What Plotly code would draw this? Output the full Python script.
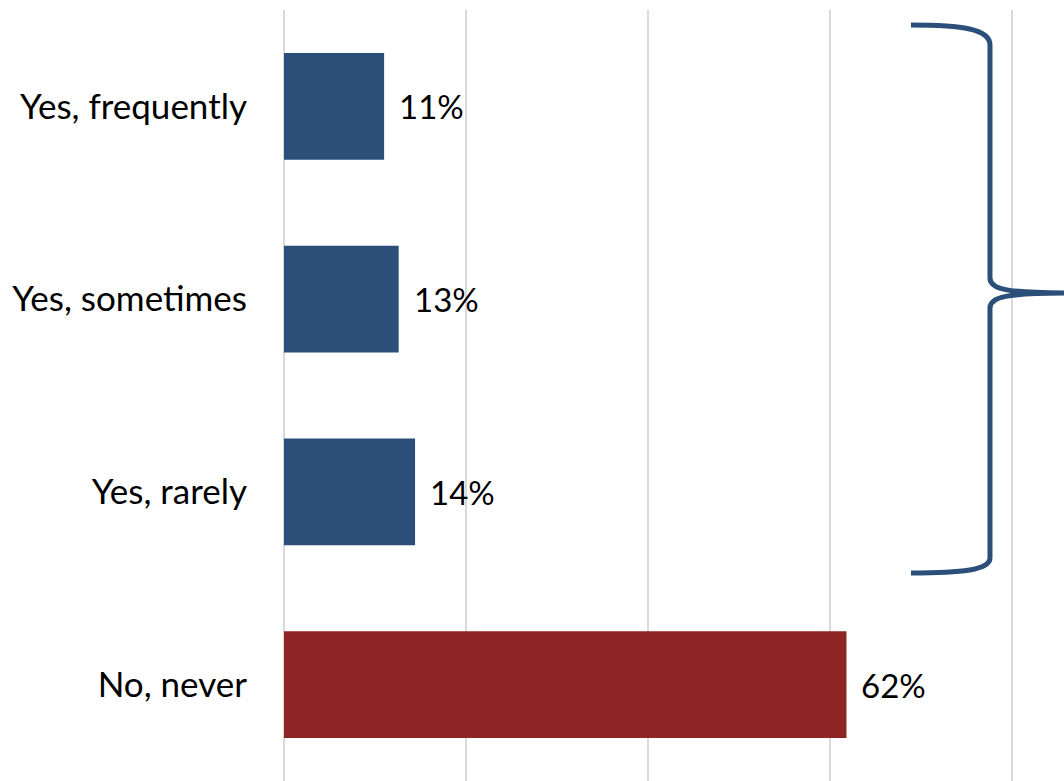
import plotly.graph_objects as go

categories = ["No, never", "Yes, rarely", "Yes, sometimes", "Yes, frequently"]
values = [61.8, 14.4, 12.6, 11.0]
labels = ["62%", "14%", "13%", "11%"]
colors = ["#8e2423", "#2b4f78", "#2b4f78", "#2b4f78"]

W, H = 1064, 781
L, R, T, B = 284, 0, 10, 0

fig = go.Figure()
fig.add_trace(go.Bar(
    x=values, y=list(range(len(categories))), orientation="h",
    marker=dict(color=colors, line=dict(width=0)),
    width=0.555, hoverinfo="skip", showlegend=False,
))

for i, (v, t) in enumerate(zip(values, labels)):
    fig.add_annotation(x=v, y=i, text=t, showarrow=False, xanchor="left",
                       xshift=13, font=dict(size=33, color="#000000", family="Lato"))

# curly brace (decorative) in paper coordinates
def px(x):
    return (x - L) / (W - L - R)

def py(y):
    return (H - B - y) / (H - T - B)

def pt(x, y):
    return f"{px(x):.4f},{py(y):.4f}"

path = (
    f"M {pt(911,25)} C {pt(962,25)} {pt(990,29)} {pt(990,45)} "
    f"L {pt(990,278)} C {pt(990,289)} {pt(1005,293)} {pt(1070,293)} "
    f"M {pt(1070,293)} C {pt(1005,293)} {pt(990,297)} {pt(990,308)} "
    f"L {pt(990,558)} C {pt(990,570)} {pt(962,573)} {pt(911,573)}"
)
fig.add_shape(type="path", path=path, xref="paper", yref="paper",
              line=dict(color="#2b4f78", width=5))

fig.update_layout(
    width=W, height=H,
    margin=dict(l=L, r=R, t=T, b=B),
    plot_bgcolor="white", paper_bgcolor="white",
    font=dict(family="Lato", size=35, color="#000000"),
    bargap=0.445,
)
fig.update_xaxes(range=[0, 85.7], dtick=20, showgrid=True, gridcolor="#d9d9d9",
                 gridwidth=2, showticklabels=False, zeroline=True,
                 zerolinecolor="#d9d9d9", zerolinewidth=2, showline=False, ticks="")
fig.update_yaxes(range=[-0.5, 3.5], tickmode="array", tickvals=list(range(len(categories))),
                 ticktext=categories, showgrid=False, zeroline=False, showline=False,
                 ticks="", ticklabelstandoff=36, tickfont=dict(size=35, color="#000000"))

fig.write_html("out.html", config={"displayModeBar": False},
               post_script="document.body.style.margin='0';document.body.style.overflow='hidden';")
